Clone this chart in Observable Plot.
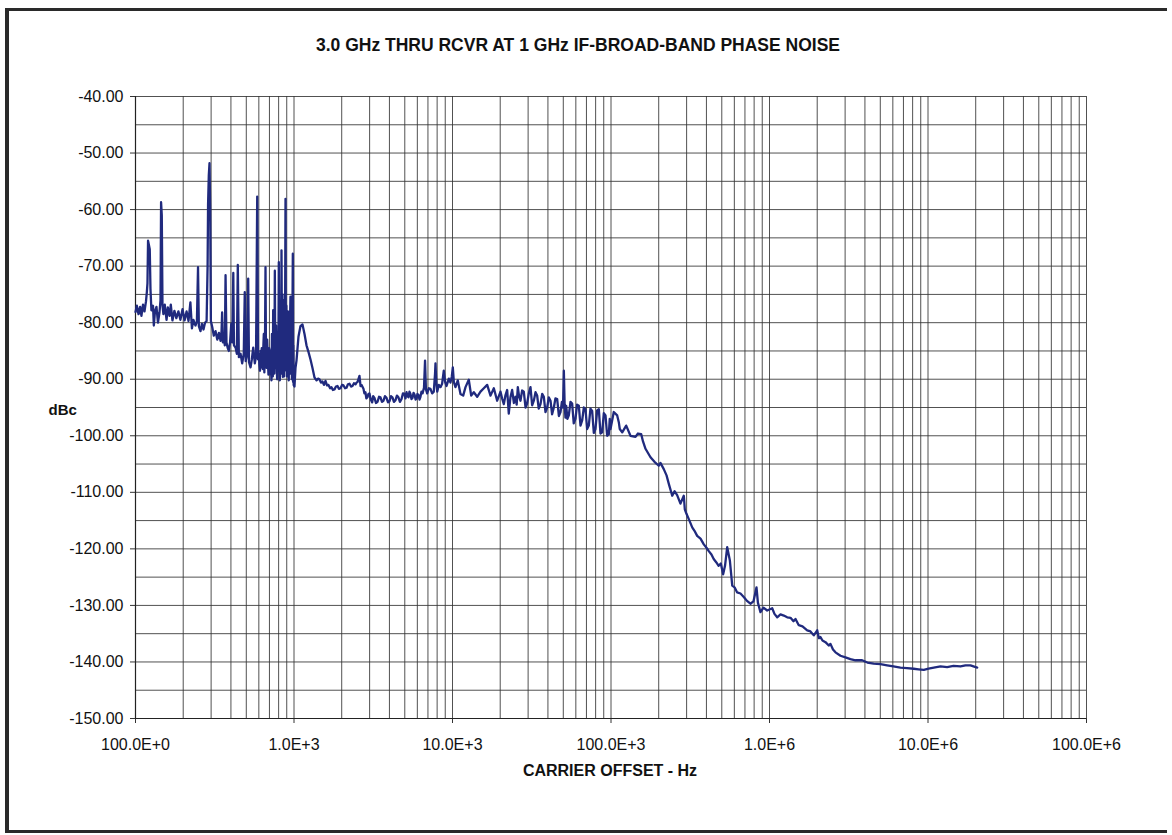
<!DOCTYPE html>
<html><head><meta charset="utf-8">
<script src="https://cdn.jsdelivr.net/npm/d3@7"></script>
<script src="https://cdn.jsdelivr.net/npm/@observablehq/plot@0.6"></script>
<style>
body{margin:0;background:#fff;}
#page{position:relative;width:1172px;height:835px;overflow:hidden;background:#fff;}
#border{position:absolute;left:5px;top:8px;width:1162px;height:825px;border-top:3px solid #2a2a2a;border-left:4px solid #2a2a2a;border-bottom:3px solid #2a2a2a;box-sizing:border-box;}
#chart{position:absolute;left:0;top:0;}
</style></head><body><div id="page"><div id="border"></div><div id="chart"></div></div>
<script>
const title = "3.0 GHz THRU RCVR AT 1 GHz IF-BROAD-BAND PHASE NOISE";
const xLabel = "CARRIER OFFSET - Hz";
const yLabel = "dBc";
const xTicks = [100, 1e3, 1e4, 1e5, 1e6, 1e7, 1e8];
const xTickLabels = ["100.0E+0", "1.0E+3", "10.0E+3", "100.0E+3", "1.0E+6", "10.0E+6", "100.0E+6"];
const yTicks = [-40, -50, -60, -70, -80, -90, -100, -110, -120, -130, -140, -150];

// [offset Hz, dBc]
const spurRegion = [
[100,-78.1],[102,-77.0],[104.5,-78.5],[107,-77.2],[109,-78.8],[111.5,-76.8],[114,-78.0],[116.5,-76.2],[118,-74.5],[119,-73.0],[120,-65.5],[121.6,-66.3],[123,-67.0],[124.3,-74.0],[126,-77.8],[129,-77.0],[130.5,-80.5],[132.7,-78.0],[135.6,-77.2],[138.6,-80.0],[141.7,-78.2],[143.8,-76.0],[145,-58.7],[146.5,-61.0],[148,-77.0],[150,-78.5],[153,-76.8],[157,-79.5],[160,-77.3],[164,-78.8],[167,-76.8],[171,-79.6],[176,-77.9],[181,-79.2],[186.5,-78.0],[192,-79.5],[198,-77.6],[204,-79.6],[210,-78.0],[216,-79.7],[222,-76.4],[227,-81.0],[232,-79.5],[239,-80.5],[244,-79.8],[248,-70.2],[251,-80.6],[257,-81.5],[262.5,-80.2],[268.5,-81.2],[274.5,-80.0],[281,-79.7],[285,-70.0],[287,-59.0],[290,-54.0],[293,-51.8],[296,-60.0],[299,-79.7],
[306,-81.0],[312,-82.3],[320,-81.5],[328,-83.0],[336,-81.8],[344,-83.2],[349,-81.5],[352,-78.2],[356,-83.5],[361,-82.5],[366,-84.0],[370,-71.6],[375,-83.5],[382,-84.5],[388,-85.0],[395,-83.5],[402,-80.2],[408,-83.5],[414,-71.2],[418,-84.0],[428,-84.4],[436,-85.5],[442,-69.8],[449,-86.1],[460,-85.5],[471,-87.2],[482,-85.5],[489,-74.6],[496,-86.8],[502,-86.1],[508,-85.5],[514,-72.2],[520,-87.0],[532,-87.9],[542,-86.5],[553,-84.4],[566,-87.2],[576,-86.0],[586,-57.7],[593,-86.5],
[600,-85.5],[605,-87.5],[610,-88.5],[615,-85.0],[621,-87.9],[626,-84.5],[630,-86.0],[635,-88.2],[639,-85.0],[645,-82.0],[650,-88.8],[656,-84.0],[661,-70.2],[666,-86.5],[672,-88.0],[677,-83.0],[683,-86.1],[690,-89.2],[697,-84.5],[704,-89.0],[711,-85.0],[716,-88.5],[721,-90.2],[726,-82.0],[730,-86.0],[735,-89.5],[739,-77.8],[744,-88.0],[748,-84.0],[752,-89.0],[757,-70.8],[762,-86.5],[766,-88.0],[771,-80.5],[776,-87.2],[783,-90.0],[790,-82.5],[796,-88.5],[802,-69.3],[808,-86.0],[814,-90.2],[819,-79.0],[824,-84.0],[829,-89.0],[834,-67.2],[838,-80.0],[842,-86.0],[846,-75.0],[850,-89.6],[856,-84.0],[862,-76.0],[866,-89.5],[870,-80.0],[874,-88.5],[877,-84.0],[884,-58.1],[888,-84.0],[892,-88.0],[895,-77.0],[899,-82.0],[903,-89.5],[906,-80.2],[910,-87.0],[915,-78.0],[920,-89.0],[927,-90.2],[931,-79.0],[935,-84.0],[939,-88.5],[943,-80.0],[950,-75.4],[954,-89.0],[958,-82.0],[962,-88.0],[966,-79.0],[970,-90.0],[975,-84.0],[983,-67.8],[987,-90.5],[990,-84.0],[995,-91.0],[1007,-91.3]
];

const plateau = [
[1022,-88.0],[1037,-86.7],[1067,-82.5],[1099,-80.6],[1131,-80.3],[1165,-82.0],[1199,-84.0],[1235,-85.2],[1271,-86.5],[1308,-88.0],[1347,-89.7],[1387,-90.2],[1420,-89.9],[1448,-90.0],[1480,-90.6],[1512,-90.4],[1545,-91.0],[1580,-90.3],[1615,-91.1],[1650,-91.0],[1690,-91.6],[1724,-91.4],[1760,-91.9],[1801,-91.8],[1840,-91.3],[1881,-91.2],[1920,-91.7],[1965,-91.6],[2010,-91.0],[2053,-91.1],[2100,-91.6],[2144,-91.5],[2190,-90.9],[2240,-90.8],[2290,-91.3],[2340,-91.2],[2390,-90.7],[2444,-90.9],[2480,-90.6],[2515,-90.5],[2589,-89.4],[2630,-91.2],[2665,-91.0],[2743,-91.7],[2780,-92.5],[2823,-92.3],[2860,-93.4],[2906,-93.2],[2950,-92.6],[2991,-92.5],[3050,-93.6],[3114,-94.1],[3160,-93.0],[3218,-93.3],[3290,-94.2],[3363,-94.0],[3440,-93.1],[3513,-93.2],[3590,-94.0],[3670,-93.8],[3750,-93.0],[3834,-93.3],[3920,-94.1],[4005,-93.9],[4090,-93.0],[4180,-93.2],[4270,-94.0],[4370,-93.7],[4460,-92.9],[4560,-93.2],[4660,-94.0],[4770,-93.5],[4870,-92.5],[4980,-92.6],[5050,-93.4],[5130,-92.3],[5200,-93.0],[5280,-93.2],[5350,-92.2],[5430,-92.6],[5510,-93.5],[5590,-93.3],[5680,-92.4],[5760,-92.7],[5850,-93.6],[5930,-93.4],[6010,-92.6],[6100,-92.8],[6190,-93.6],[6280,-93.1],[6370,-92.2],[6470,-92.5],[6610,-91.5],[6710,-86.7],[6800,-91.8],[6920,-92.5],[7090,-91.6],[7260,-91.7],[7440,-92.5],[7620,-92.2],[7760,-89.0],[7810,-87.2],[7900,-90.5],[8010,-92.2],[8200,-91.0],[8400,-91.4],[8600,-90.8],[8810,-88.5],[8990,-90.5],[9170,-91.2],[9480,-89.9],[9710,-90.6],[9900,-89.5],
[10045,-87.9],[10200,-90.5],[10440,-91.4],[10800,-90.2],[11230,-92.6],[11680,-92.9],[12080,-91.4],[12670,-90.1],[13120,-92.9],[13630,-92.3],[14310,-93.1],[15020,-92.2],[15760,-91.6],[16550,-91.0],[17370,-92.9],[18230,-91.6],[19130,-93.8],
[20090,-92.2],[20600,-93.5],[21080,-94.4],[21600,-92.8],[22130,-91.9],[22650,-96.1],[23200,-93.2],[23780,-91.9],[24400,-94.2],[24970,-93.1],[25400,-94.5],[25830,-91.4],[26300,-93.0],[26840,-93.8],[27500,-92.0],[28170,-92.2],[28900,-95.0],[29570,-94.3],[30300,-92.5],[31050,-91.4],[31800,-94.6],[32590,-93.8],[33400,-92.3],[34210,-92.9],[35000,-95.2],[35910,-94.4],[36800,-92.6],[37690,-93.1],[38600,-95.8],[39570,-95.0],[40500,-93.2],[41530,-93.8],[42500,-96.2],[43590,-95.0],[44600,-93.4],[45760,-93.5],[46900,-96.5],[48030,-95.8],[49000,-94.0],[49800,-95.0],[50410,-88.5],[51000,-94.5],[51600,-96.8],[52180,-94.7],[53100,-97.0],[54180,-96.4],[55500,-94.0],[56870,-94.3],[58200,-97.8],[59690,-97.0],[61100,-94.5],[62660,-94.7],[64200,-98.2],[65770,-97.3],[67400,-95.0],[69030,-95.3],[70700,-98.8],[72450,-98.2],[74200,-95.2],[76050,-95.6],[77900,-99.5],[79830,-98.8],[81800,-95.5],[83790,-95.3],[85800,-99.6],[87950,-99.4],[90100,-96.0],[92320,-96.4],[94600,-100.0],[96900,-99.7],[98200,-97.0],[99300,-98.8]
];

const rolloff = [
[104100,-95.8],[109400,-96.4],[112000,-97.6],[113600,-98.8],[117700,-99.4],[124700,-98.2],[132700,-100.0],[142700,-100.2],[148000,-99.6],[155000,-99.7],[159200,-101.0],[165100,-102.3],[177500,-103.8],[188100,-104.6],[200200,-105.3],[205100,-104.8],[215300,-105.9],[224100,-107.0],[231600,-108.5],[243400,-110.6],[251700,-109.8],[261400,-110.5],[274300,-112.0],[287900,-110.6],[292200,-113.0],[299300,-113.8],[312500,-115.0],[325400,-116.2],[336300,-116.8],[349700,-117.7],[367100,-118.2],[385100,-119.2],[400400,-119.8],[414000,-120.4],[430300,-121.0],[444600,-121.8],[462200,-122.4],[477700,-123.0],[493000,-122.6],[510000,-124.5],[524000,-123.0],[541000,-119.7],[562000,-122.0],[582000,-126.5],[602000,-126.8],[625000,-127.7],[656000,-127.9],[688000,-128.5],[721000,-129.2],[758000,-129.7],[792000,-129.3],[828000,-126.8],[845000,-129.5],[877000,-131.2],[916000,-130.4],[967000,-130.9],
[1040000,-130.5],[1075000,-131.5],[1118000,-132.1],[1173000,-131.6],[1231000,-131.8],[1293000,-132.1],[1357000,-132.2],[1417000,-132.8],[1459000,-132.4],[1530000,-133.5],[1615000,-133.7],[1729000,-134.4],[1813000,-134.6],[1903000,-135.3],[2000000,-134.4],[2050000,-135.8],[2097000,-135.6],[2159000,-136.2],[2255000,-136.5],[2366000,-137.1],[2424000,-136.8],[2515000,-137.8],[2608000,-138.3]
];

const noiseFloor = [
[2804000,-138.9],[3014000,-139.2],[3241000,-139.5],[3485000,-139.7],[3838000,-139.7],[4147000,-140.1],[4540000,-140.3],[5010000,-140.4],[5520000,-140.6],[6050000,-140.8],[6700000,-141.0],[7370000,-141.1],[8130000,-141.2],[8710000,-141.3],[9410000,-141.4],[10070000,-141.2],[10880000,-141.0],[11990000,-140.8],[13210000,-140.9],[14480000,-140.7],[16030000,-140.8],[17240000,-140.6],[18530000,-140.6],[20430000,-141.0]
];

const data = [...spurRegion, ...plateau, ...rolloff, ...noiseFloor].map(([f, db]) => ({f, db}));
const minorX = xTicks.slice(0, -1).flatMap(d => [2, 3, 4, 5, 6, 7, 8, 9].map(k => k * d));
const halfY = yTicks.slice(0, -1).map(v => v - 5);
const font = "'Liberation Sans', Arial, Helvetica, sans-serif";

const chart = Plot.plot({
  width: 1172, height: 835,
  marginLeft: 135, marginRight: 86, marginTop: 96, marginBottom: 117,
  style: {fontFamily: font, background: "transparent", color: "#111"},
  x: {type: "log", domain: [100, 1e8]},
  y: {domain: [-150, -40]},
  marks: [
    Plot.gridX(minorX.concat(xTicks), {stroke: "#333", strokeOpacity: 0.85, strokeWidth: 1}),
    Plot.gridY(yTicks.concat(halfY), {stroke: "#333", strokeOpacity: 0.85, strokeWidth: 1}),
    Plot.axisY({ticks: yTicks, tickFormat: d => d.toFixed(2), tickSize: 5, tickPadding: 7, fontSize: 16, label: null, stroke: "#333"}),
    Plot.axisX({ticks: xTicks, tickFormat: d => xTickLabels[xTicks.indexOf(d)], tickSize: 5, tickPadding: 15, fontSize: 16, label: null, stroke: "#333"}),
    Plot.ruleX([100], {stroke: "#222", strokeWidth: 1.2}),
    Plot.ruleY([-150], {stroke: "#222", strokeWidth: 1.2}),
    Plot.line(data, {x: "f", y: "db", stroke: "#202a7e", strokeWidth: 2.3, strokeLinejoin: "round"}),
    Plot.text([title], {frameAnchor: "top", dx: -33, dy: -58, fontSize: 17.5, fontWeight: "bold", fill: "#111"}),
    Plot.text([xLabel], {frameAnchor: "bottom", dx: -1, dy: 57, fontSize: 16, fontWeight: "bold", fill: "#111"}),
    Plot.text([yLabel], {frameAnchor: "left", dx: -87, dy: 3, fontSize: 15, fontWeight: "bold", fill: "#111"})
  ]
});
document.getElementById("chart").appendChild(chart);
</script>
</body></html>
